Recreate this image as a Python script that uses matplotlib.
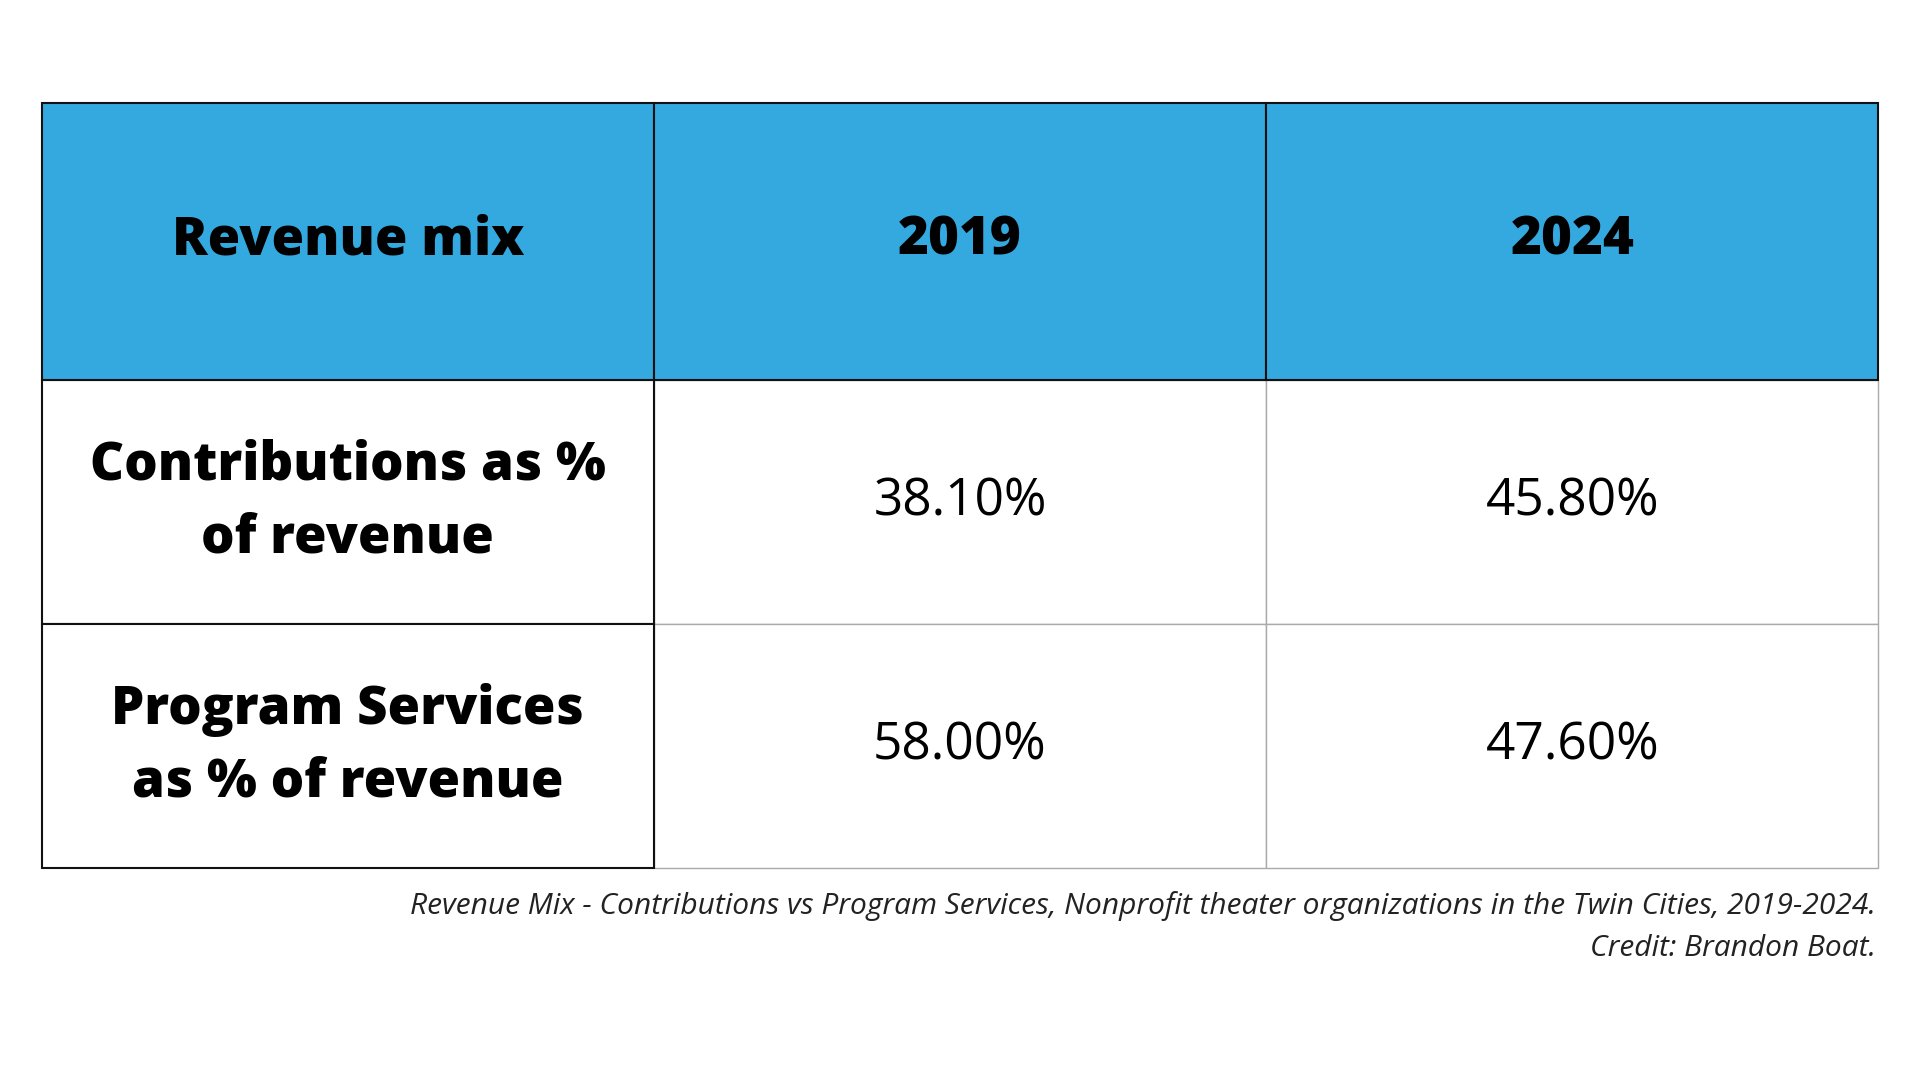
import matplotlib.pyplot as plt
from matplotlib.patches import Rectangle

header = ["Revenue mix", "2019", "2024"]
row_labels = ["Contributions as %\nof revenue", "Program Services\nas % of revenue"]
vals_2019 = ["38.10%", "58.00%"]
vals_2024 = ["45.80%", "47.60%"]
caption = ("Revenue Mix - Contributions vs Program Services, Nonprofit theater organizations in the Twin Cities, 2019-2024.\n"
           "Credit: Brandon Boat.")

fig = plt.figure(figsize=(19.2, 10.8), dpi=100)
ax = fig.add_axes([0, 0, 1, 1])
ax.set_xlim(0, 1568)
ax.set_ylim(882, 0)
ax.axis("off")

xs = [34, 534, 1034, 1534]
ys = [84, 310, 510, 709]
blue = "#33a9e0"
font = "Open Sans"

# data cells (gray borders)
for r in range(2):
    for c in range(1, 3):
        ax.add_patch(Rectangle((xs[c], ys[r + 1]), xs[c + 1] - xs[c], ys[r + 2] - ys[r + 1],
                               fc="white", ec="#aaaaaa", lw=1))
# first column (dark borders)
for r in range(2):
    ax.add_patch(Rectangle((xs[0], ys[r + 1]), xs[1] - xs[0], ys[r + 2] - ys[r + 1],
                           fc="white", ec="#111111", lw=1.5))
# header
for c in range(3):
    ax.add_patch(Rectangle((xs[c], ys[0]), xs[c + 1] - xs[c], ys[1] - ys[0],
                           fc=blue, ec="#111111", lw=1.5))
    ax.text((xs[c] + xs[c + 1]) / 2, (ys[0] + ys[1]) / 2, header[c], ha="center", va="center",
            fontsize=38, fontweight="heavy", family=font, color="black")

for r in range(2):
    cy = (ys[r + 1] + ys[r + 2]) / 2
    ax.text((xs[0] + xs[1]) / 2, cy, row_labels[r], ha="center", va="center",
            fontsize=38, fontweight="heavy", family=font, linespacing=1.5)
    ax.text((xs[1] + xs[2]) / 2, cy, vals_2019[r], ha="center", va="center",
            fontsize=37, family=font)
    ax.text((xs[2] + xs[3]) / 2, cy, vals_2024[r], ha="center", va="center",
            fontsize=37, family=font)

ax.text(1532, 728, caption, ha="right", va="top", fontsize=21.5, style="italic",
        family=font, color="#222222", linespacing=1.55)

fig.savefig("out.png", dpi=100, facecolor="white")
